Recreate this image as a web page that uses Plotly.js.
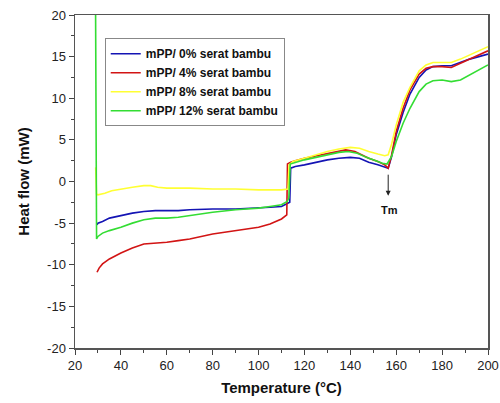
<!DOCTYPE html>
<html>
<head>
<meta charset="utf-8">
<script src="https://cdn.plot.ly/plotly-3.0.1.min.js"></script>
<style>html,body{margin:0;padding:0;background:#fff;}#chart{width:500px;height:403px;}</style>
</head>
<body>
<div id="chart"></div>
<script>
const seriesNames = ["mPP/ 0% serat bambu", "mPP/ 4% serat bambu", "mPP/ 8% serat bambu", "mPP/ 12% serat bambu"];

const blueX = [29.6, 30, 32, 35, 40, 45, 50, 55, 60, 65, 70, 80, 90, 100, 105, 110, 112.5, 113.6, 114, 116, 120, 125, 130, 135, 140, 144, 148, 152, 155, 156.5, 158, 160, 163, 166, 170, 173, 176, 180, 184, 188, 192, 196, 200];
const blueY = [-5.2, -5.0, -4.8, -4.4, -4.1, -3.8, -3.6, -3.5, -3.5, -3.5, -3.4, -3.3, -3.3, -3.2, -3.1, -3.0, -2.7, -2.5, 1.6, 1.8, 2.0, 2.3, 2.6, 2.8, 2.9, 2.8, 2.3, 2.0, 1.7, 1.6, 3.0, 5.6, 8.3, 10.5, 12.5, 13.4, 13.8, 13.9, 13.9, 14.3, 14.7, 15.0, 15.3];

const redX = [29.6, 30.5, 32, 35, 40, 45, 50, 55, 60, 65, 70, 80, 90, 100, 105, 110, 112.3, 112.6, 114, 116, 120, 125, 130, 135, 138, 142, 145, 148, 152, 155, 156.5, 158, 160, 163, 166, 170, 173, 176, 180, 184, 188, 192, 196, 200];
const redY = [-10.9, -10.4, -9.9, -9.3, -8.6, -8.0, -7.5, -7.4, -7.3, -7.1, -6.9, -6.3, -5.9, -5.5, -5.1, -4.5, -4.0, 2.1, 2.3, 2.5, 2.8, 3.1, 3.4, 3.7, 3.8, 3.6, 3.2, 2.8, 2.4, 2.0, 1.6, 3.2, 6.0, 8.8, 11.0, 12.9, 13.6, 13.8, 13.8, 13.7, 14.2, 14.7, 15.2, 15.7];

const yellowX = [29.0, 29.4, 30, 33, 36, 40, 45, 50, 53, 56, 60, 70, 80, 90, 100, 110, 112.8, 113.3, 115, 120, 125, 130, 135, 140, 144, 148, 152, 155, 156.5, 158, 160, 163, 166, 170, 173, 176, 180, 184, 188, 192, 196, 200];
const yellowY = [1.7, -1.5, -1.6, -1.4, -1.1, -0.9, -0.7, -0.5, -0.5, -0.7, -0.8, -0.8, -0.9, -0.9, -1.0, -1.0, -0.9, 2.0, 2.4, 2.8, 3.2, 3.6, 3.9, 4.1, 4.0, 3.6, 3.3, 3.1, 3.2, 4.5, 6.8, 9.5, 11.3, 13.3, 14.0, 14.3, 14.3, 14.3, 14.7, 15.2, 15.7, 16.2];

const greenX = [28.9, 29.4, 30, 32, 35, 40, 45, 50, 55, 60, 65, 70, 80, 90, 100, 105, 110, 112.5, 113.2, 113.8, 116, 120, 125, 130, 135, 139, 143, 147, 151, 154, 156, 158, 160, 163, 166, 170, 173, 176, 180, 184, 188, 192, 196, 200];
const greenY = [25, -6.9, -6.6, -6.2, -5.9, -5.5, -5.0, -4.6, -4.4, -4.4, -4.3, -4.1, -3.7, -3.4, -3.2, -3.0, -2.8, -2.4, -2.0, 2.1, 2.3, 2.6, 2.9, 3.2, 3.5, 3.6, 3.4, 2.9, 2.5, 2.2, 2.1, 3.0, 4.8, 7.0, 8.8, 10.8, 11.7, 12.1, 12.2, 12.0, 12.2, 12.8, 13.4, 14.0];

const xTickVals = [20, 40, 60, 80, 100, 120, 140, 160, 180, 200];
const yTickVals = [-20, -15, -10, -5, 0, 5, 10, 15, 20];
const yTickText = ["-20", "-15", "-10", "-5", "0", "5", "10", "15", "20"];
const tmLabel = "Tm";
const tmX = 156.5;

const colors = ["#1414b4", "#d21414", "#ffff33", "#33dd33"];
const xs = [blueX, redX, yellowX, greenX];
const ys = [blueY, redY, yellowY, greenY];

const traces = seriesNames.map((n, i) => ({
  type: "scatter", mode: "lines", name: n, x: xs[i], y: ys[i],
  line: {color: colors[i], width: 1.6}
}));

const FONT = "Arial, 'Liberation Sans', sans-serif";

const layout = {
  width: 500, height: 403,
  margin: {l: 75, r: 12, t: 15, b: 55},
  paper_bgcolor: "#fff", plot_bgcolor: "#fff",
  font: {family: FONT, color: "#222"},
  showlegend: true,
  legend: {
    x: 0.072, y: 0.93, xanchor: "left", yanchor: "top",
    bgcolor: "#fff", bordercolor: "#888", borderwidth: 1,
    font: {family: FONT, size: 12, color: "#111", weight: "bold"},
    itemwidth: 30, tracegroupgap: 0
  },
  xaxis: {
    range: [20, 200], tickvals: xTickVals, ticks: "outside", ticklen: 5, tickwidth: 1,
    tickcolor: "#444", showline: true, linecolor: "#555", linewidth: 1.5, mirror: true,
    showgrid: false, zeroline: false, tickfont: {family: FONT, size: 13, color: "#222"},
    minor: {dtick: 10, ticks: "outside", ticklen: 3, tickcolor: "#444", showgrid: false},
    title: {text: "Temperature (°C)", font: {family: FONT, size: 15, color: "#111", weight: "bold"}, standoff: 10}
  },
  yaxis: {
    range: [-20, 20], tickvals: yTickVals, ticktext: yTickText, ticks: "outside", ticklen: 5, tickwidth: 1,
    tickcolor: "#444", showline: true, linecolor: "#555", linewidth: 1.5, mirror: true,
    showgrid: false, zeroline: false, tickfont: {family: FONT, size: 13, color: "#222"},
    minor: {dtick: 2.5, ticks: "outside", ticklen: 3, tickcolor: "#444", showgrid: false},
    title: {text: "Heat flow (mW)", font: {family: FONT, size: 15, color: "#111", weight: "bold"}, standoff: 14}
  },
  annotations: [
    {x: tmX, y: -1.7, ax: tmX, ay: 1.0, xref: "x", yref: "y", axref: "x", ayref: "y",
     showarrow: true, arrowhead: 2, arrowsize: 1, arrowwidth: 1, arrowcolor: "#222", text: ""},
    {x: tmX + 0.5, y: -3.4, xref: "x", yref: "y", text: tmLabel, showarrow: false,
     font: {family: FONT, size: 11, color: "#111", weight: "bold"}}
  ]
};

Plotly.newPlot("chart", traces, layout, {displayModeBar: false, staticPlot: true});
</script>
</body>
</html>
